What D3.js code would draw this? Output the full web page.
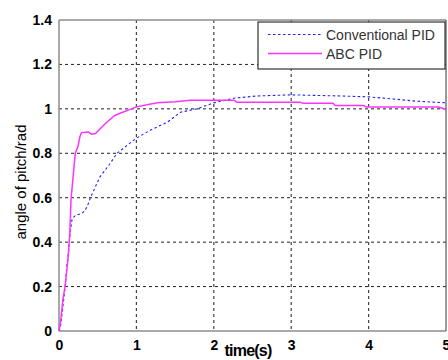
<!DOCTYPE html>
<html>
<head>
<meta charset="utf-8">
<script src="https://cdn.jsdelivr.net/npm/d3@7"></script>
<style>
  body { margin: 0; background: #fff; }
  svg { display: block; font-family: "Liberation Sans", Arial, sans-serif; }
</style>
</head>
<body>
<div id="chart"></div>
<script>
// step response
const convTime = [0, 0.02, 0.05, 0.08, 0.10, 0.125, 0.146, 0.17, 0.21, 0.30, 0.34, 0.38, 0.405, 0.53, 0.66, 0.75, 0.88, 1.0, 1.18, 1.40, 1.57, 1.78, 2.0, 2.26, 2.56, 3.0, 3.64, 4.0, 4.33, 4.6, 5.0];
const convValue = [0, 0.02, 0.11, 0.2, 0.29, 0.36, 0.45, 0.505, 0.52, 0.53, 0.545, 0.574, 0.6, 0.694, 0.754, 0.80, 0.836, 0.868, 0.904, 0.94, 0.985, 1.0, 1.027, 1.048, 1.058, 1.063, 1.058, 1.054, 1.044, 1.035, 1.027];

const abcTime = [0, 0.02, 0.05, 0.08, 0.115, 0.14, 0.155, 0.21, 0.245, 0.27, 0.29, 0.38, 0.42, 0.47, 0.6, 0.72, 0.79, 1.0, 1.27, 1.5, 1.7, 2.26, 2.3, 3.12, 3.15, 3.54, 3.57, 3.94, 3.97, 4.9, 5.0];
const abcValue = [0, 0.04, 0.14, 0.205, 0.32, 0.44, 0.59, 0.8, 0.83, 0.875, 0.893, 0.896, 0.886, 0.889, 0.934, 0.97, 0.98, 1.009, 1.027, 1.032, 1.039, 1.039, 1.03, 1.03, 1.025, 1.025, 1.015, 1.015, 1.008, 1.008, 0.998];

const xTicks = [0, 1, 2, 3, 4, 5];
const yTicks = [0, 0.2, 0.4, 0.6, 0.8, 1, 1.2, 1.4];
const seriesNames = ["Conventional PID", "ABC PID"];

const width = 448, height = 360;
const margin = { top: 20, right: 2, bottom: 29, left: 59 };
const innerW = width - margin.left - margin.right;
const innerH = height - margin.top - margin.bottom;

const svg = d3.select("#chart").append("svg")
    .attr("width", width)
    .attr("height", height);

const g = svg.append("g")
    .attr("transform", `translate(${margin.left},${margin.top})`);

const x = d3.scaleLinear().domain([0, 5]).range([0, innerW]);
const y = d3.scaleLinear().domain([0, 1.4]).range([innerH, 0]);

// grid
g.append("g").selectAll("line")
    .data(yTicks.slice(1, -1))
    .join("line")
    .attr("x1", 0).attr("x2", innerW)
    .attr("y1", d => y(d)).attr("y2", d => y(d))
    .attr("stroke", "#222").attr("stroke-width", 1)
    .attr("stroke-dasharray", "3,3");

g.append("g").selectAll("line")
    .data(xTicks.slice(1, -1))
    .join("line")
    .attr("x1", d => x(d)).attr("x2", d => x(d))
    .attr("y1", 0).attr("y2", innerH)
    .attr("stroke", "#444").attr("stroke-width", 1.2)
    .attr("stroke-dasharray", "3,3");

// axes
const xAxis = d3.axisBottom(x).tickValues(xTicks).tickFormat(d3.format("")).tickSize(0).tickPadding(9);
const yAxis = d3.axisLeft(y).tickValues(yTicks).tickFormat(d3.format("")).tickSize(0).tickPadding(7);

g.append("g")
    .attr("transform", `translate(0,${innerH})`)
    .call(xAxis)
    .call(s => s.select(".domain").remove())
    .selectAll("text")
    .attr("font-size", 14).attr("font-weight", "bold").attr("fill", "#000")
    .attr("font-family", "Liberation Sans, Arial, sans-serif");

g.append("g")
    .call(yAxis)
    .call(s => s.select(".domain").remove())
    .selectAll("text")
    .attr("font-size", 14).attr("font-weight", "bold").attr("fill", "#000")
    .attr("font-family", "Liberation Sans, Arial, sans-serif");

// frame
g.append("line").attr("x1", 0).attr("x2", innerW).attr("y1", 0).attr("y2", 0)
    .attr("stroke", "#8c8c8c").attr("stroke-width", 1.5);
g.append("line").attr("x1", 0).attr("x2", 0).attr("y1", 0).attr("y2", innerH)
    .attr("stroke", "#8c8c8c").attr("stroke-width", 1.5);
g.append("line").attr("x1", 0).attr("x2", innerW).attr("y1", innerH).attr("y2", innerH)
    .attr("stroke", "#555").attr("stroke-width", 1.2);
g.append("line").attr("x1", innerW).attr("x2", innerW).attr("y1", 0).attr("y2", innerH)
    .attr("stroke", "#555").attr("stroke-width", 1.2);

// lines
const line = d3.line().x(d => x(d[0])).y(d => y(d[1]));

g.append("path")
    .datum(d3.zip(convTime, convValue))
    .attr("d", line)
    .attr("fill", "none")
    .attr("stroke", "#2020ff")
    .attr("stroke-width", 1.1)
    .attr("stroke-dasharray", "2.5,2.5");

g.append("path")
    .datum(d3.zip(abcTime, abcValue))
    .attr("d", line)
    .attr("fill", "none")
    .attr("stroke", "#ff33ff")
    .attr("stroke-width", 1.5);

// legend
const lg = svg.append("g").attr("transform", "translate(258,22)");
lg.append("rect")
    .attr("width", 187).attr("height", 47)
    .attr("fill", "#fff").attr("stroke", "#333").attr("stroke-width", 1.2);

const legendStyles = [
    { color: "#2020ff", dash: "2.5,2.5", w: 1.1 },
    { color: "#ff33ff", dash: null, w: 1.5 }
];
seriesNames.forEach((name, i) => {
    const yy = 12.5 + i * 19;
    lg.append("line")
        .attr("x1", 10).attr("x2", 64).attr("y1", yy).attr("y2", yy)
        .attr("stroke", legendStyles[i].color)
        .attr("stroke-width", legendStyles[i].w)
        .attr("stroke-dasharray", legendStyles[i].dash);
    lg.append("text")
        .attr("x", 68).attr("y", yy + 5)
        .attr("font-size", 14).attr("fill", "#333")
        .text(name);
});

// axis labels
svg.append("text")
    .attr("x", 248).attr("y", 356)
    .attr("text-anchor", "middle")
    .attr("font-size", 16).attr("font-weight", "bold")
    .attr("letter-spacing", -0.8)
    .text("time(s)");

svg.append("text")
    .attr("transform", "translate(26,182) rotate(-90)")
    .attr("text-anchor", "middle")
    .attr("font-size", 15)
    .text("angle of pitch/rad");
</script>
</body>
</html>
